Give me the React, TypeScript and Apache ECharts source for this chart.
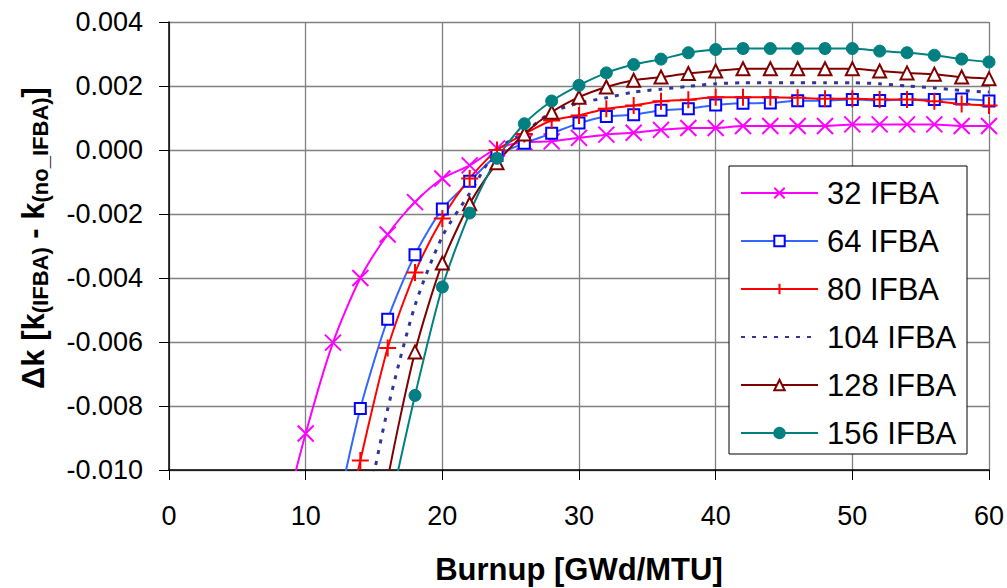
import React, { useEffect, useRef } from "react";
import * as echarts from "echarts";

const burnup = [8, 10, 12, 14, 16, 18, 20, 22, 24, 26, 28, 30, 32, 34, 36, 38, 40, 42, 44, 46, 48, 50, 52, 54, 56, 58, 60];

const ifba32 = [-0.0122, -0.00886, -0.00602, -0.0040, -0.00264, -0.00163, -0.00089, -0.00048, 0.00005, 0.00024, 0.00027, 0.00038, 0.00048, 0.00054, 0.00063, 0.00069, 0.00069, 0.00075, 0.00075, 0.00075, 0.00075, 0.0008, 0.0008, 0.0008, 0.0008, 0.00075, 0.00075];
const ifba64 = [null, null, -0.0119, -0.00808, -0.00529, -0.00327, -0.00184, -0.00098, -0.00017, 0.00021, 0.00052, 0.00084, 0.00105, 0.0011, 0.00124, 0.00129, 0.00141, 0.00146, 0.00147, 0.00154, 0.00154, 0.00158, 0.00155, 0.00158, 0.00158, 0.00159, 0.00153];
const ifba80 = [null, null, -0.0135, -0.0097, -0.00619, -0.00383, -0.00214, -0.00089, 0.0, 0.0005, 0.00092, 0.00108, 0.00129, 0.00139, 0.00152, 0.00157, 0.00165, 0.00165, 0.00165, 0.00163, 0.0016, 0.0016, 0.00158, 0.00158, 0.00152, 0.00144, 0.00139];
const ifba104 = [null, null, null, -0.0122, -0.0081, -0.00486, -0.0027, -0.00135, 0.0, 0.00055, 0.00118, 0.00147, 0.00163, 0.00181, 0.0019, 0.00199, 0.00207, 0.0021, 0.0021, 0.0021, 0.0021, 0.0021, 0.00207, 0.002, 0.00194, 0.00186, 0.00181];
const ifba128 = [null, null, null, -0.0155, -0.0103, -0.00631, -0.00353, -0.00168, -0.0004, 0.0005, 0.00118, 0.00165, 0.00197, 0.00218, 0.00228, 0.00239, 0.00247, 0.00254, 0.00254, 0.00254, 0.00254, 0.00254, 0.00247, 0.00241, 0.00237, 0.00228, 0.00223];
const ifba156 = [null, null, null, null, -0.0115, -0.00767, -0.00428, -0.00197, -0.00026, 0.00082, 0.00153, 0.00202, 0.00241, 0.00267, 0.00284, 0.00304, 0.00314, 0.00317, 0.00317, 0.00317, 0.00317, 0.00317, 0.00309, 0.00304, 0.00296, 0.00284, 0.00275];

const seriesNames = ["32 IFBA", "64 IFBA", "80 IFBA", "104 IFBA", "128 IFBA", "156 IFBA"];

const pairs = (vals: (number | null)[]) =>
  burnup.map((x, i) => [x, vals[i]]).filter((p) => p[1] !== null);

export default function App() {
  const ref = useRef<HTMLDivElement>(null);
  useEffect(() => {
    if (!ref.current) return;
    const chart = echarts.init(ref.current, undefined, { renderer: "svg" });
    const font = "'Liberation Sans', Arial, sans-serif";
    const common = { type: "line", smooth: 0.25, clip: true, showAllSymbol: true };
    chart.setOption({
      animation: false,
      backgroundColor: "#fff",
      textStyle: { fontFamily: font },
      grid: { left: 169, right: 18, top: 22, bottom: 118, containLabel: false, outerBoundsMode: "none" },
      graphic: [
        {
          type: "rect",
          z: 3,
          shape: { x: 729, y: 166, width: 238, height: 288 },
          style: { fill: "#fff", stroke: "#000", lineWidth: 1 },
        },
      ],
      legend: {
        orient: "vertical",
        left: 740,
        top: 176,
        z: 5,
        padding: 0,
        itemWidth: 77,
        itemHeight: 13,
        itemGap: 14,
        textStyle: { fontFamily: font, fontSize: 31, color: "#000", lineHeight: 34, padding: [0, 0, 0, 4] },
        data: [
          seriesNames[0],
          seriesNames[1],
          seriesNames[2],
          { name: seriesNames[3], itemStyle: { color: "rgba(0,0,0,0)", borderColor: "rgba(0,0,0,0)", borderWidth: 0 } },
          seriesNames[4],
          seriesNames[5],
        ],
      },
      xAxis: {
        type: "value",
        min: 0,
        max: 60,
        interval: 10,
        name: "Burnup [GWd/MTU]",
        nameLocation: "middle",
        nameGap: 83,
        nameTextStyle: { fontFamily: font, fontSize: 31, fontWeight: "bold", color: "#000", lineHeight: 32 },
        axisLine: { onZero: false, lineStyle: { color: "#000", width: 1.5 } },
        axisTick: { show: true, inside: false, length: 10, lineStyle: { color: "#000" } },
        axisLabel: { fontFamily: font, fontSize: 27, color: "#000", margin: 32 },
        splitLine: { show: true, lineStyle: { color: "#808080", width: 1.3 } },
      },
      yAxis: {
        type: "value",
        min: -0.01,
        max: 0.004,
        interval: 0.002,
        name: "{a|Δk [k}{s|(IFBA)}{a| - k}{s|(no_IFBA)}{a|]}",
        nameLocation: "middle",
        nameRotate: 90,
        nameGap: 118,
        nameTextStyle: {
          fontFamily: font,
          color: "#000",
          padding: [0, 0, 0, 16],
          rich: {
            a: { fontFamily: font, fontSize: 31, fontWeight: "bold", color: "#000", lineHeight: 36, verticalAlign: "middle" },
            s: { fontFamily: font, fontSize: 22, fontWeight: "bold", color: "#000", lineHeight: 26, verticalAlign: "bottom" },
          },
        },
        axisLine: { show: true, onZero: false, lineStyle: { color: "#000", width: 1.5 } },
        axisTick: { show: true, inside: false, length: 10, lineStyle: { color: "#000" } },
        axisLabel: {
          fontFamily: font,
          fontSize: 27,
          color: "#000",
          margin: 26,
          formatter: (v: number) => (Math.abs(v) < 1e-9 ? "0.000" : v.toFixed(3)),
        },
        splitLine: { show: true, lineStyle: { color: "#808080", width: 1.3 } },
      },
      series: [
        {
          ...common,
          name: seriesNames[0],
          data: pairs(ifba32),
          symbol: "path://M0,0L10,10M10,0L0,10",
          symbolSize: 16,
          lineStyle: { color: "#ff00ff", width: 2 },
          itemStyle: { color: "none", borderColor: "#ff00ff", borderWidth: 2 },
        },
        {
          ...common,
          name: seriesNames[1],
          data: pairs(ifba64),
          symbol: "rect",
          symbolSize: 11,
          lineStyle: { color: "#3366ff", width: 2 },
          itemStyle: { color: "#fff", borderColor: "#0000ff", borderWidth: 2 },
        },
        {
          ...common,
          name: seriesNames[2],
          data: pairs(ifba80),
          symbol: "path://M5,0L5,10M0,5L10,5",
          symbolSize: 17,
          lineStyle: { color: "#ff0000", width: 2 },
          itemStyle: { color: "none", borderColor: "#ff0000", borderWidth: 2 },
        },
        {
          ...common,
          name: seriesNames[3],
          data: pairs(ifba104),
          symbol: "none",
          lineStyle: { color: "#333399", width: 3, type: [4, 7] },
          itemStyle: { color: "#333399" },
        },
        {
          ...common,
          name: seriesNames[4],
          data: pairs(ifba128),
          symbol: "triangle",
          symbolSize: 13,
          lineStyle: { color: "#800000", width: 2 },
          itemStyle: { color: "#fff", borderColor: "#800000", borderWidth: 2 },
        },
        {
          ...common,
          name: seriesNames[5],
          data: pairs(ifba156),
          symbol: "circle",
          symbolSize: 12,
          lineStyle: { color: "#008080", width: 2 },
          itemStyle: { color: "#008080", borderColor: "#008080", borderWidth: 1 },
        },
      ],
    });
    return () => chart.dispose();
  }, []);
  return (
    <div
      ref={ref}
      style={{ position: "fixed", left: 0, top: 0, width: 1007, height: 588 }}
    />
  );
}
